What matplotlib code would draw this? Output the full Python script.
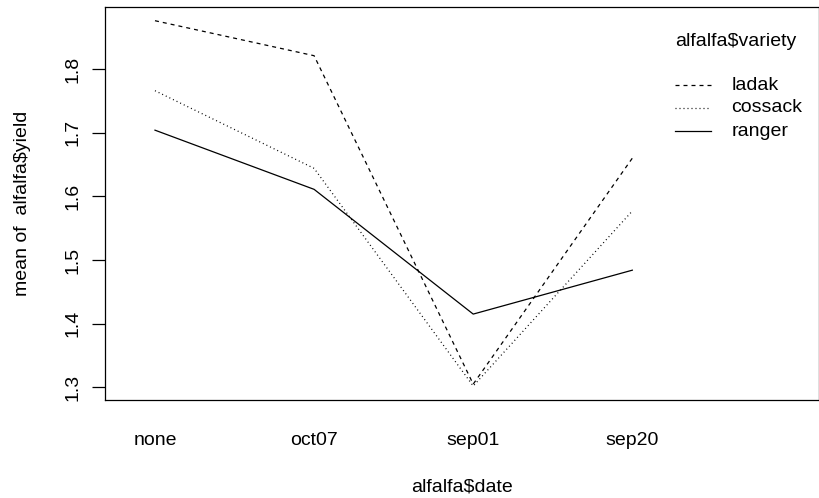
import matplotlib
matplotlib.use("Agg")
import matplotlib.pyplot as plt
from matplotlib.lines import Line2D

plt.rcParams['font.family'] = ['Liberation Sans', 'DejaVu Sans']
plt.rcParams['lines.scale_dashes'] = False

# means of alfalfa$yield by date and variety
dates = ["none", "oct07", "sep01", "sep20"]
varieties = ["ladak", "cossack", "ranger"]
ladak = [1.876, 1.821, 1.305, 1.660]
cossack = [1.766, 1.644, 1.302, 1.577]
ranger = [1.704, 1.611, 1.415, 1.484]
yticks = [1.3, 1.4, 1.5, 1.6, 1.7, 1.8]

W, H = 820, 498
px = 0.72  # one pixel in points at dpi 100
lw = 0.9
fs = 14
styles = [(0, (4 * px, 4 * px)), (0, (1 * px, 3 * px)), "-"]

fig = plt.figure(figsize=(W / 100, H / 100), dpi=100)
ax = fig.add_axes([104.7 / W, 1 - 400 / H, (818.5 - 104.7) / W, (400 - 6.7) / H])

xs = list(range(1, len(dates) + 1))
for vals, ls in zip([ladak, cossack, ranger], styles):
    ax.plot(xs, vals, color="black", linewidth=lw, linestyle=ls)

ax.set_xlim(0.684, 5.17)
ax.set_ylim(1.28, 1.898)

ax.set_xticks(xs)
ax.set_xticklabels(dates, fontsize=fs)
ax.tick_params(axis="x", length=0, pad=22.7)
ax.set_yticks(yticks)
ax.set_yticklabels([f"{t:.1f}" for t in yticks], fontsize=fs, rotation=90, va="center")
ax.tick_params(axis="y", length=9.4, width=lw, pad=7)

for s in ax.spines.values():
    s.set_linewidth(lw)

ax.set_xlabel("alfalfa$date", fontsize=fs, va="top")
ax.xaxis.set_label_coords(0.5, (400 - 478.8) / 393.3)
ax.set_ylabel("mean of  alfalfa$yield", fontsize=fs)
ax.yaxis.set_label_coords((31 - 104.7) / 713.8, 0.5)

# legend drawn R style, placed in pixel positions
def fx(x):
    return x / W

def fy(y):
    return 1 - y / H

fig.text(fx(675), fy(41.7), "alfalfa$variety", fontsize=fs, ha="left", va="center")
for i, (name, ls) in enumerate(zip(varieties, styles)):
    y = 85 + 23 * i
    fig.add_artist(Line2D([fx(675), fx(711)], [fy(y), fy(y)], color="black",
                          linewidth=lw, linestyle=ls))
    fig.text(fx(731.5), fy(y), name, fontsize=fs, ha="left", va="center")

fig.savefig("out.png", dpi=100)
